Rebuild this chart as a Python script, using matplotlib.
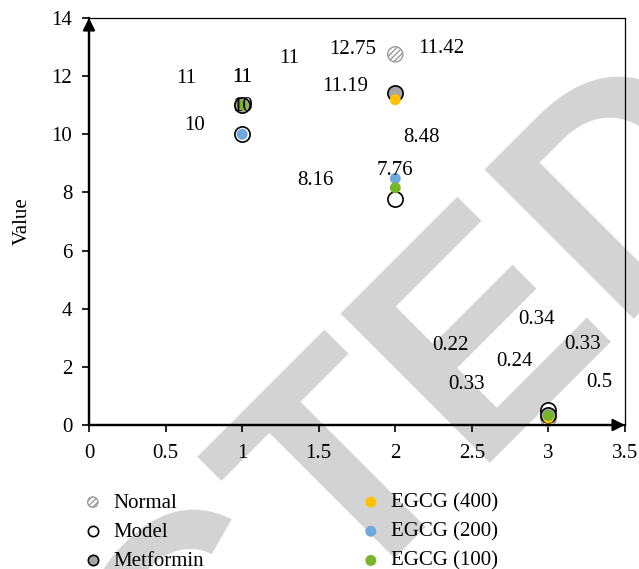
import matplotlib
matplotlib.use('Agg')
import matplotlib.pyplot as plt
from matplotlib.ticker import FuncFormatter

# data
doses = [1, 2, 3]
normal = [11, 12.75, 0.22]
model = [10, 7.76, 0.5]
metformin = [11, 11.42, 0.33]
egcg400 = [11, 11.19, 0.24]
egcg200 = [10, 8.48, 0.34]
egcg100 = [11, 8.16, 0.33]
names = ['Normal', 'Model', 'Metformin', 'EGCG (400)', 'EGCG (200)', 'EGCG (100)']
x_ticks = [0, 0.5, 1, 1.5, 2, 2.5, 3, 3.5]
y_ticks = [0, 2, 4, 6, 8, 10, 12, 14]

# where the data labels were dragged to (layout only)
label_pos = [
    [(0.634, 12.0), (1.72, 13.0), (2.36, 2.82)],
    [(1.0, 11.04), (2.0, 8.84), (3.33, 1.55)],
    [(1.307, 12.69), (2.30, 13.04), (3.22, 2.86)],
    [(1.0, 12.04), (1.67, 11.73), (2.78, 2.27)],
    [(0.69, 10.39), (2.17, 9.98), (2.92, 3.72)],
    [(1.0, 12.04), (1.48, 8.5), (2.464, 1.48)],
]

plt.rcParams['font.family'] = ['Liberation Serif', 'DejaVu Serif']
plt.rcParams['hatch.linewidth'] = 1.0
fs = 15

fig = plt.figure(figsize=(6.39, 5.69), dpi=100)
ax = fig.add_axes([89/639, 144/569, 536/639, 407/569])
ax.set_facecolor('none')

# retraction watermark behind everything
wm = dict(color='#d3d3d3', fontsize=220, fontweight='bold', family='Liberation Sans',
          rotation=45, rotation_mode='anchor', va='baseline', zorder=-10)
fig.text(344/639, 1 - 606/569, 'TED', ha='left', **wm)
fig.text(344/639, 1 - 606/569, 'RETRAC', ha='right', **wm)

series = [normal, model, metformin, egcg400, egcg200, egcg100]
styles = [
    dict(s=120, facecolor='white', edgecolor='#9a9a9a', hatch='//////', linewidths=1.0),
    dict(s=120, facecolor='white', edgecolor='black', linewidths=1.2),
    dict(s=120, facecolor='#a6a6a6', edgecolor='black', linewidths=1.2),
    dict(s=62, facecolor='#ffc000', edgecolor='none'),
    dict(s=62, facecolor='#6fa8dc', edgecolor='none'),
    dict(s=62, facecolor='#77b52b', edgecolor='none'),
]

handles = []
for i, vals in enumerate(series):
    h = ax.scatter(doses, vals, label=names[i], zorder=3 + i, clip_on=False, **styles[i])
    handles.append(h)
    for v, (lx, ly) in zip(vals, label_pos[i]):
        ax.text(lx, ly, '%g' % v, ha='center', va='center_baseline', fontsize=fs, zorder=20)

ax.set_xlim(0, 3.5)
ax.set_ylim(0, 14)
ax.set_xticks(x_ticks)
ax.set_yticks(y_ticks)
fmt = FuncFormatter(lambda v, p: '%g' % v)
ax.xaxis.set_major_formatter(fmt)
ax.yaxis.set_major_formatter(fmt)
ax.tick_params(labelsize=fs, length=5, width=1.2, direction='out', pad=7,
               top=False, right=False)
ax.tick_params(axis='x', pad=9)
ax.set_ylabel('Value', fontsize=fs, labelpad=14)

for side in ['top', 'right']:
    ax.spines[side].set_linewidth(0.9)
for side in ['left', 'bottom']:
    ax.spines[side].set_linewidth(1.6)

# axis arrows
arr = dict(arrowstyle='-|>', color='black', lw=1.6, mutation_scale=18, shrinkA=0, shrinkB=0)
ax.annotate('', xy=(0, 1), xytext=(0, 0), xycoords='axes fraction', arrowprops=arr)
ax.annotate('', xy=(1, 0), xytext=(0, 0), xycoords='axes fraction', arrowprops=arr)

leg_kw = dict(frameon=False, fontsize=fs, handlelength=0.75, handletextpad=0.6,
              labelspacing=0.46, borderpad=0, borderaxespad=0, loc='upper left')
leg1 = fig.legend(handles=handles[:3], bbox_to_anchor=(85/639, 1 - 493/569), **leg_kw)
leg2 = fig.legend(handles=handles[3:], bbox_to_anchor=(363/639, 1 - 493/569), **leg_kw)
for lh in leg1.legend_handles:
    lh.set_sizes([55])
for lh in leg2.legend_handles:
    lh.set_sizes([62])

fig.savefig('out.png', dpi=100)
